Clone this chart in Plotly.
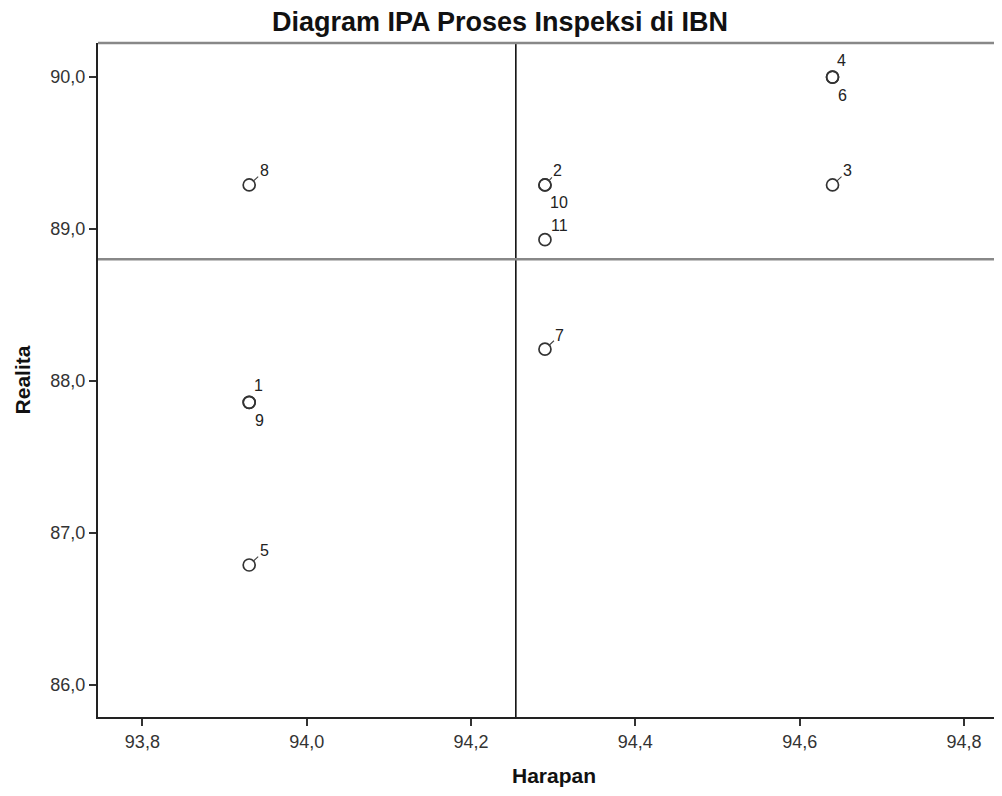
import plotly.graph_objects as go
import numpy as np

# ---- data ----
ids = [1, 2, 3, 4, 5, 6, 7, 8, 9, 10, 11]
harapan = [93.93, 94.29, 94.64, 94.64, 93.93, 94.64, 94.29, 93.93, 93.93, 94.29, 94.29]
realita = [87.86, 89.29, 89.29, 90.00, 86.79, 90.00, 88.21, 89.29, 87.86, 89.29, 88.93]
x_ticks = [93.8, 94.0, 94.2, 94.4, 94.6, 94.8]
y_ticks = [86.0, 87.0, 88.0, 89.0, 90.0]

FONT = "Arial, Liberation Sans, sans-serif"
LBL = dict(family=FONT, size=16, color="#222")

fig = go.Figure()
fig.add_trace(go.Scatter(
    x=harapan, y=realita, mode="markers",
    marker=dict(symbol="circle-open", size=12, color="#333333", line=dict(width=1.7, color="#333333")),
    hoverinfo="skip", showlegend=False))

# label placement (style): duplicates get one label above and one below
groups = {}
for i, (x, y) in enumerate(zip(harapan, realita)):
    groups.setdefault((x, y), []).append(i)

for (x, y), idxs in groups.items():
    if len(idxs) == 1:
        fig.add_annotation(x=x, y=y, text=str(ids[idxs[0]]), showarrow=True,
                           ax=15, ay=-14, arrowhead=0, arrowwidth=1.1, arrowcolor="#444",
                           standoff=5, font=LBL)
    else:
        first, second = idxs[0], idxs[1]
        if ids[first] == 2:
            fig.add_annotation(x=x, y=y, text=str(ids[first]), showarrow=True,
                               ax=13, ay=-14, arrowhead=0, arrowwidth=1.1, arrowcolor="#444",
                               standoff=5, font=LBL)
        else:
            fig.add_annotation(x=x, y=y, text=str(ids[first]), showarrow=False,
                               xshift=9, yshift=17, font=LBL)
        fig.add_annotation(x=x, y=y, text=str(ids[second]), showarrow=False,
                           xshift=10 if ids[second] < 10 else 14, yshift=-18, font=LBL)

mx = float(np.mean(harapan))
my = float(np.mean(realita))
fig.add_shape(type="line", xref="x", yref="paper", x0=mx, x1=mx, y0=0, y1=1,
              line=dict(color="#111111", width=1.6))
fig.add_shape(type="line", xref="paper", yref="y", x0=0, x1=1, y0=my, y1=my,
              line=dict(color="#888888", width=2.4))
fig.add_shape(type="line", xref="paper", yref="paper", x0=0, x1=1, y0=1, y1=1,
              line=dict(color="#888888", width=2.6))

fig.update_layout(
    width=1002, height=796,
    margin=dict(l=90, r=0, t=35, b=87),
    paper_bgcolor="white", plot_bgcolor="white",
    separators=",.",
    title=dict(text="Diagram IPA Proses Inspeksi di IBN", x=(500 - 8) / 1002, xanchor="center",
               y=1 - 14 / 796, yanchor="middle",
               font=dict(family=FONT, size=27, color="#111", weight="bold")),
    xaxis=dict(range=[93.746, 94.856], tickvals=x_ticks, tickformat=".1f",
               ticks="outside", ticklen=7, tickwidth=2, tickcolor="#333",
               showline=True, linecolor="#222", linewidth=2, showgrid=False, zeroline=False,
               tickfont=dict(family=FONT, size=18, color="#333"),
               title=dict(text="Harapan", standoff=18,
                          font=dict(family=FONT, size=21, color="#111", weight="bold"))),
    yaxis=dict(range=[85.79, 90.224], tickvals=y_ticks, tickformat=".1f",
               ticks="outside", ticklen=7, tickwidth=2, tickcolor="#333",
               showline=True, linecolor="#222", linewidth=2, showgrid=False, zeroline=False,
               tickfont=dict(family=FONT, size=18, color="#333"),
               title=dict(text="Realita", standoff=14,
                          font=dict(family=FONT, size=21, color="#111", weight="bold"))),
)

fig.write_html("out.html")
